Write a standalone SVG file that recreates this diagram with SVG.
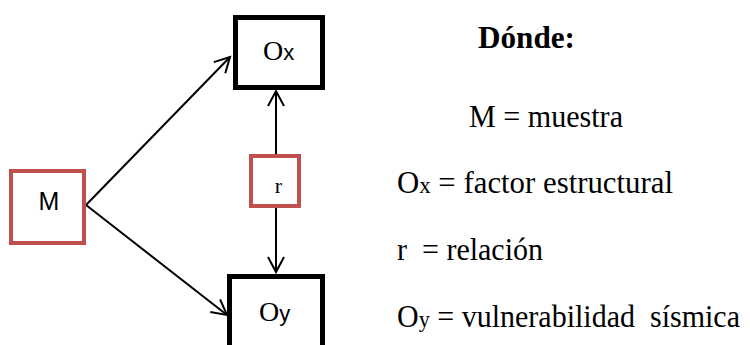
<svg xmlns="http://www.w3.org/2000/svg" width="750" height="345" viewBox="0 0 750 345">
<style>
.red{fill:#fff;stroke:#c0504d;stroke-width:4}
.blk{fill:#fff;stroke:#000;stroke-width:5}
.conn{stroke:#000;stroke-width:2;fill:none}
.sans{font-family:"Liberation Sans",Arial,sans-serif;fill:#000}
.serif{font-family:"Liberation Serif","Times New Roman",serif;fill:#000}
</style>
<defs>
<marker id="arr" viewBox="0 0 16 16" refX="15" refY="8" markerWidth="16" markerHeight="16" markerUnits="userSpaceOnUse" orient="auto" overflow="visible">
<path d="M0,0 L15,8 L0,16" fill="none" stroke="#000" stroke-width="2"/>
</marker>
</defs>
<rect width="750" height="345" fill="#fff"/>
<g id="connectors">
<line class="conn" x1="86" y1="205" x2="230" y2="57" marker-end="url(#arr)"/>
<line class="conn" x1="86" y1="205" x2="227" y2="315" marker-end="url(#arr)"/>
<line class="conn" x1="276" y1="155" x2="276" y2="91" marker-end="url(#arr)"/>
<line class="conn" x1="276" y1="207" x2="276" y2="272" marker-end="url(#arr)"/>
</g>
<g id="M">
<rect class="red" x="11" y="171" width="73" height="72"/>
<text class="sans" x="49" y="210" font-size="25" text-anchor="middle">M</text>
</g>
<g id="r">
<rect class="red" x="251" y="156" width="48" height="50"/>
<text class="serif" x="278.5" y="193" font-size="22" text-anchor="middle">r</text>
</g>
<g id="Ox">
<rect class="blk" x="235.5" y="17.5" width="87" height="70"/>
<text class="serif" x="263" y="60" font-size="28">O<tspan class="sans" font-size="22">x</tspan></text>
</g>
<g id="Oy">
<rect class="blk" x="229.5" y="276.5" width="93" height="80"/>
<text class="serif" x="259" y="321" font-size="28">O<tspan class="sans" font-size="22">y</tspan></text>
</g>
<g id="legend">
<text class="serif" x="478" y="48" font-size="31" font-weight="bold" textLength="97" lengthAdjust="spacingAndGlyphs">Dónde:</text>
<text class="serif" x="469" y="127" font-size="31" textLength="154" lengthAdjust="spacingAndGlyphs">M = muestra</text>
<text class="serif" x="397" y="193" font-size="31" textLength="276" lengthAdjust="spacingAndGlyphs">O<tspan font-size="23">x</tspan> = factor estructural</text>
<text class="serif" x="397" y="260" font-size="31" textLength="146" lengthAdjust="spacingAndGlyphs" xml:space="preserve">r  = relación</text>
<text class="serif" x="397" y="327" font-size="31" textLength="343" lengthAdjust="spacingAndGlyphs" xml:space="preserve">O<tspan font-size="23">y</tspan> = vulnerabilidad  sísmica</text>
</g>
</svg>
